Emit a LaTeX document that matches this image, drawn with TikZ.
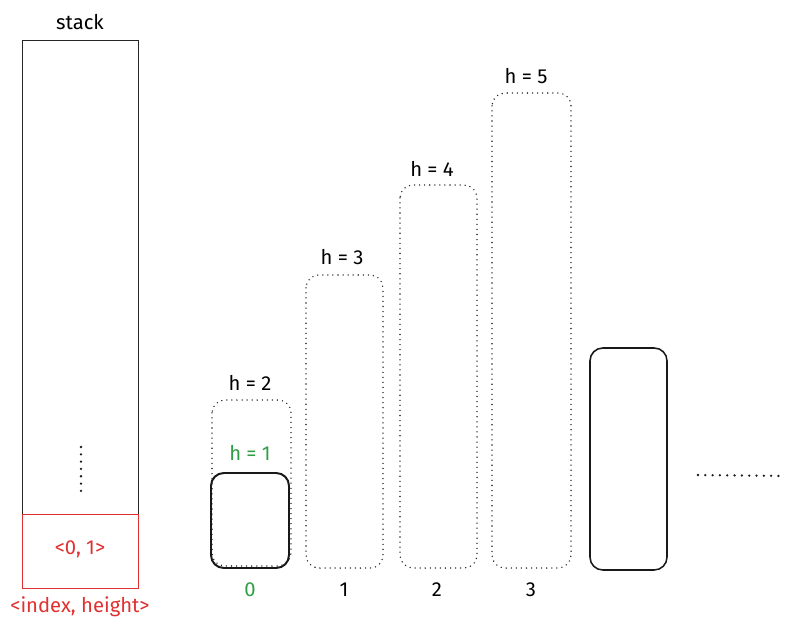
\documentclass[tikz,border=0pt]{standalone}
\usepackage{fontspec}
\setmainfont{Fira Sans}
\definecolor{stackRed}{RGB}{224,49,49}
\definecolor{curGreen}{RGB}{47,158,68}
\begin{document}
\begin{tikzpicture}[x=0.025cm, y=-0.025cm]

          \tikzstyle{normalText} = [black, font=\Large];
          \tikzstyle{redText} = [stackRed, font=\Large];
          \tikzstyle{greenText} = [curGreen, font=\Large];

          \tikzstyle{stackBox} = [draw=black!85, line width=0.7pt];
          \tikzstyle{topBox} = [draw=stackRed, line width=0.7pt];
          \tikzstyle{solidBar} = [draw=black!90, line width=1.4pt, rounded corners=0.32cm];
          \tikzstyle{dotBar} = [draw=black!85, line width=1.1pt, line cap=round, dash pattern=on 0pt off 3.6pt, rounded corners=0.32cm];
          \tikzstyle{dotLine} = [draw=black!90, line width=1.8pt, line cap=round, dash pattern=on 0pt off 5.2pt];

          \useasboundingbox (0,0) rectangle (796,632);

          % stack
          \node[normalText] (stackLabel) at (80,22) {stack};
          \draw[stackBox] (22,40) rectangle (138,588);
          \draw[topBox] (22,514) rectangle (138,588);
          \node[redText] (topEntry) at (80,549) {<0, 1>};
          \node[redText] (entryFormat) at (80,607) {<index, height>};
          \coordinate (stackDotsTop) at (81,447);
          \coordinate (stackDotsBot) at (81,495);
          \draw[dotLine] (stackDotsTop) -- (stackDotsBot);

          % bars
          \draw[dotBar] (212,400) rectangle (291,566);
          \draw[dotBar] (306,275) rectangle (383,568);
          \draw[dotBar] (400,185) rectangle (477,568);
          \draw[dotBar] (492,93) rectangle (571,568);
          \draw[solidBar] (211,473) rectangle (289,568);
          \draw[solidBar, line width=1.1pt] (590,348) rectangle (667,570);

          \node[greenText] (hOne) at (250,453) {h = 1};
          \node[normalText] (hTwo) at (250,383) {h = 2};
          \node[normalText] (hThree) at (342,257) {h = 3};
          \node[normalText] (hFour) at (432,169) {h = 4};
          \node[normalText] (hFive) at (526,76) {h = 5};

          \node[greenText] (idxZero) at (250,590) {0};
          \node[normalText] (idxOne) at (344,590) {1};
          \node[normalText] (idxTwo) at (437,590) {2};
          \node[normalText] (idxThree) at (531,590) {3};

          \coordinate (moreLeft) at (698,475);
          \coordinate (moreRight) at (785,476);
          \draw[dotLine] (moreLeft) -- (moreRight);
        \end{tikzpicture}
\end{document}
